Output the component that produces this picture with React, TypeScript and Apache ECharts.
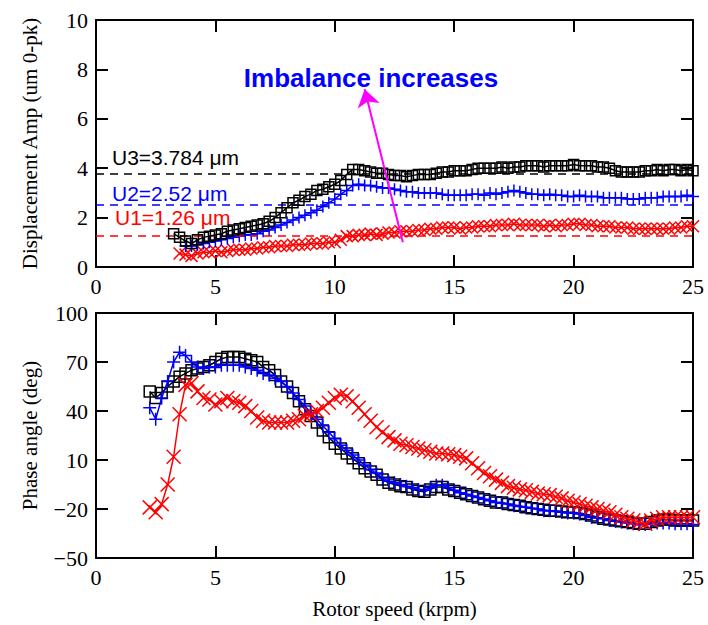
import React, { useEffect, useRef } from "react";
import * as echarts from "echarts";

// Rotor speed grid (krpm)
const SPEED = [
  2.25, 2.5, 2.75,
  3.0, 3.25, 3.5, 3.75, 4.0, 4.25, 4.5, 4.75, 5.0, 5.25, 5.5, 5.75,
  6.0, 6.25, 6.5, 6.75, 7.0, 7.25, 7.5, 7.75, 8.0, 8.25, 8.5, 8.75,
  9.0, 9.25, 9.5, 9.75, 10.0, 10.25, 10.5, 10.75, 11.0, 11.25, 11.5, 11.75,
  12.0, 12.25, 12.5, 12.75, 13.0, 13.25, 13.5, 13.75, 14.0, 14.25, 14.5, 14.75,
  15.0, 15.25, 15.5, 15.75, 16.0, 16.25, 16.5, 16.75, 17.0, 17.25, 17.5, 17.75,
  18.0, 18.25, 18.5, 18.75, 19.0, 19.25, 19.5, 19.75, 20.0, 20.25, 20.5, 20.75,
  21.0, 21.25, 21.5, 21.75, 22.0, 22.25, 22.5, 22.75, 23.0, 23.25, 23.5, 23.75,
  24.0, 24.25, 24.5, 24.75, 25.0,
];

// Displacement amplitude (um 0-pk)
const AMP_U3 = [
  null, null, null,
  null, 1.35, 1.2, 1.05, 0.95, 1.1, 1.2, 1.25, 1.3, 1.35, 1.45, 1.5,
  1.55, 1.6, 1.65, 1.7, 1.75, 1.85, 2.0, 2.2, 2.4, 2.6, 2.7, 2.85,
  2.95, 3.1, 3.15, 3.25, 3.35, 3.5, 3.75, 3.95, 3.95, 3.9, 3.85, 3.8,
  3.8, 3.75, 3.7, 3.7, 3.65, 3.7, 3.75, 3.75, 3.75, 3.8, 3.85, 3.85,
  3.9, 3.9, 3.9, 3.95, 4.0, 4.0, 4.0, 4.0, 4.05, 4.0, 4.05, 4.05,
  4.1, 4.1, 4.1, 4.05, 4.1, 4.1, 4.1, 4.1, 4.15, 4.1, 4.1, 4.1,
  4.05, 4.05, 4.0, 3.9, 3.85, 3.85, 3.85, 3.85, 3.9, 3.9, 3.95, 3.9,
  3.95, 3.95, 3.9, 3.95, 3.9,
];
const AMP_U2 = [
  null, null, null,
  null, null, null, 0.85, 0.85, 0.9, 0.95, 1.0, 1.05, 1.1, 1.15, 1.2,
  1.25, 1.3, 1.3, 1.35, 1.45, 1.5, 1.6, 1.7, 1.8, 1.9, 2.0, 2.1,
  2.2, 2.3, 2.45, 2.6, 2.75, 2.95, 3.1, 3.3, 3.35, 3.3, 3.3, 3.25,
  3.2, 3.2, 3.15, 3.1, 3.05, 3.05, 3.0, 3.0, 3.0, 3.0, 2.95, 2.9,
  2.9, 2.9, 2.9, 2.95, 2.95, 2.9, 3.0, 2.95, 3.0, 3.05, 3.1, 3.05,
  3.0, 2.95, 2.95, 2.9, 2.95, 2.9, 2.9, 2.85, 2.85, 2.9, 2.85, 2.85,
  2.85, 2.8, 2.8, 2.8, 2.8, 2.75, 2.75, 2.75, 2.8, 2.8, 2.8, 2.85,
  2.85, 2.85, 2.85, 2.9, 2.85,
];
const AMP_U1 = [
  null, null, null,
  null, null, 0.55, 0.5, 0.45, 0.55, 0.6, 0.6, 0.65, 0.6, 0.65, 0.7,
  0.7, 0.7, 0.75, 0.75, 0.8, 0.8, 0.85, 0.85, 0.85, 0.9, 0.9, 0.9,
  0.95, 0.95, 0.95, 1.0, 1.0, 1.1, 1.25, 1.25, 1.3, 1.3, 1.35, 1.3,
  1.35, 1.4, 1.4, 1.45, 1.45, 1.45, 1.5, 1.5, 1.55, 1.55, 1.6, 1.6,
  1.6, 1.55, 1.6, 1.6, 1.65, 1.65, 1.65, 1.7, 1.7, 1.7, 1.75, 1.7,
  1.7, 1.7, 1.7, 1.65, 1.7, 1.65, 1.7, 1.7, 1.75, 1.75, 1.7, 1.7,
  1.65, 1.65, 1.65, 1.6, 1.6, 1.6, 1.55, 1.55, 1.55, 1.55, 1.55, 1.55,
  1.55, 1.6, 1.6, 1.65, 1.65,
];

// Phase angle (deg)
const PHASE_U3 = [
  52, 48, 51,
  55, 58, 61, 63, 65, 66, 67, 68, 70, 72, 73, 73,
  73, 72, 71, 70, 67, 65, 62, 58, 55, 51, 46, 41,
  37, 33, 28, 24, 20, 17, 14, 11, 8, 5, 3, 1,
  -2, -4, -5, -6, -6.5, -8, -9, -9.5, -8, -6.5, -6.5, -8,
  -9, -10, -11, -12, -13, -14, -15, -16, -16, -17, -17.5, -18,
  -19, -19.5, -20, -20.5, -21, -21, -21.5, -22, -22, -22.5, -23, -24,
  -25, -26, -26.5, -27, -27.5, -28, -28.5, -29, -29, -28, -27, -26.5,
  -26.5, -27, -27, -27, -27,
];
const PHASE_U2 = [
  42, 35, 48,
  58, 70, 76, 74, 70, 67, 66, 67, 67, 68, 68, 68,
  68, 67, 66, 65, 63, 62, 60, 58, 55, 51, 47, 43,
  39, 35, 31, 27, 23, 19, 16, 13, 10, 7, 4, 2,
  -1, -3, -4, -5, -6, -7, -8, -8.5, -7, -5.5, -5.5, -7,
  -8.5, -10, -11, -12, -13, -14, -15, -16, -16.5, -17, -18, -18.5,
  -19, -19.5, -20, -21, -21, -21.5, -22, -22.5, -22.5, -23, -24, -25,
  -25.5, -26, -27, -27.5, -28, -28.5, -29, -29.5, -29.5, -29, -28.5, -28.5,
  -28.5, -29, -29, -29, -29.5,
];
const PHASE_U1 = [
  -19, -22, -17,
  -5, 12, 38, 56, 57, 52, 48, 47, 44, 46, 48, 46,
  45, 43, 40, 36, 34, 33, 33, 33, 33, 34, 35, 37,
  38, 40, 42, 45, 48, 50, 49, 46, 42, 38, 34, 30,
  27, 24, 22, 20, 19, 18, 17, 16, 15, 14, 14, 13.5,
  13, 12, 11, 8, 5, 2, 0, -2, -4, -6, -7, -8,
  -8.5, -9.5, -10.5, -11, -11.5, -12.5, -13.5, -15, -16, -17, -18, -19,
  -20, -21, -22, -23.5, -25, -26, -27, -28, -29, -27, -26, -25,
  -25, -25, -25, -25, -25,
];

// Reference imbalance levels
const REF_LEVELS = [3.784, 2.52, 1.26];
const REF_LABELS = ["U3=3.784 μm", "U2=2.52 μm", "U1=1.26 μm"];
const REF_COLORS = ["#000000", "#0000ff", "#ff0000"];

// Annotation arrow (krpm, um)
const ARROW_FROM = [12.85, 1.0];
const ARROW_TO = [11.25, 7.2];
const ANNOTATION = "Imbalance increases";

const AXIS_LABELS = {
  x: "Rotor speed (krpm)",
  amp: "Displacement Amp (um 0-pk)",
  phase: "Phase angle (deg)",
};

const PLUS = "path://M5,0L5,10M0,5L10,5";
const CROSS = "path://M0,0L10,10M10,0L0,10";
const SERIF = "'Liberation Serif', 'Times New Roman', serif";
const SANS = "'Liberation Sans', Arial, sans-serif";

function pts(arr: (number | null)[]) {
  const out: number[][] = [];
  SPEED.forEach((s, i) => {
    if (arr[i] !== null && arr[i] !== undefined) out.push([s, arr[i] as number]);
  });
  return out;
}

export default function App() {
  const ref = useRef<HTMLDivElement>(null);

  useEffect(() => {
    if (!ref.current) return;
    const chart = echarts.init(ref.current, undefined, { renderer: "svg" });

    const axisLine = { show: true, onZero: false, lineStyle: { color: "#000", width: 2 } };
    const axisTick = { show: true, inside: true, length: 12, lineStyle: { color: "#000", width: 2 } };
    const axisLabel = {
      color: "#000",
      fontFamily: SERIF,
      fontSize: 22,
      margin: 8,
      formatter: (v: number) => String(v).replace("-", "\u2212"),
    };
    const nameStyle = { color: "#000", fontFamily: SERIF, fontSize: 21 };

    const xMain = (gridIndex: number, withName: boolean) => ({
      type: "value",
      gridIndex,
      min: 0,
      max: 25,
      interval: 5,
      position: "bottom",
      axisLine,
      axisTick,
      axisLabel,
      splitLine: { show: false },
      name: withName ? AXIS_LABELS.x : "",
      nameLocation: "middle",
      nameGap: 40,
      nameTextStyle: nameStyle,
    });
    const xMirror = (gridIndex: number) => ({
      type: "value",
      gridIndex,
      min: 0,
      max: 25,
      interval: 5,
      position: "top",
      axisLine,
      axisTick,
      axisLabel: { show: false },
      splitLine: { show: false },
    });
    const yMain = (gridIndex: number, min: number, max: number, interval: number, name: string) => ({
      type: "value",
      gridIndex,
      min,
      max,
      interval,
      position: "left",
      axisLine,
      axisTick,
      axisLabel,
      splitLine: { show: false },
      name,
      nameLocation: "middle",
      nameGap: 56,
      nameTextStyle: nameStyle,
    });
    const yMirror = (gridIndex: number, min: number, max: number, interval: number) => ({
      type: "value",
      gridIndex,
      min,
      max,
      interval,
      position: "right",
      axisLine,
      axisTick,
      axisLabel: { show: false },
      splitLine: { show: false },
    });

    const mk = (
      name: string,
      data: number[][],
      color: string,
      symbol: string,
      size: number,
      xi: number,
      yi: number,
      z: number
    ) => ({
      type: "line",
      name,
      xAxisIndex: xi,
      yAxisIndex: yi,
      data,
      symbol,
      symbolSize: size,
      showSymbol: true,
      showAllSymbol: true,
      z,
      lineStyle: { color, width: 1.5 },
      itemStyle: { color: "transparent", borderColor: color, borderWidth: 1.5 },
      emphasis: { disabled: true },
      silent: true,
    });

    const labelDist = [[16, 6], [16, 1], [19, 8]];

    const option = {
      animation: false,
      grid: [
        { left: 96, right: 15, top: 20, height: 247, outerBoundsMode: "none" },
        { left: 96, right: 15, top: 313, height: 245, outerBoundsMode: "none" },
      ],
      xAxis: [xMain(0, false), xMirror(0), xMain(1, true), xMirror(1)],
      yAxis: [
        yMain(0, 0, 10, 2, AXIS_LABELS.amp),
        yMirror(0, 0, 10, 2),
        yMain(1, -50, 100, 30, AXIS_LABELS.phase),
        yMirror(1, -50, 100, 30),
      ],
      series: [
        {
          type: "line",
          xAxisIndex: 0,
          yAxisIndex: 0,
          data: [],
          silent: true,
          markLine: {
            silent: true,
            symbol: ["none", "none"],
            data: REF_LEVELS.map((v, i) => ({
              yAxis: v,
              lineStyle: { color: REF_COLORS[i], type: [8, 6], width: 1.5 },
              label: {
                show: true,
                position: "insideStartTop",
                distance: labelDist[i],
                formatter: REF_LABELS[i],
                color: REF_COLORS[i],
                fontFamily: SANS,
                fontSize: 21,
              },
            })),
          },
        },
        mk("U1", pts(AMP_U1), "#ff0000", CROSS, 12, 0, 0, 3),
        mk("U2", pts(AMP_U2), "#0000ff", PLUS, 12, 0, 0, 4),
        mk("U3", pts(AMP_U3), "#000000", "rect", 10, 0, 0, 5),
        mk("U3p", pts(PHASE_U3), "#000000", "rect", 11, 2, 2, 3),
        mk("U2p", pts(PHASE_U2), "#0000ff", PLUS, 13, 2, 2, 4),
        mk("U1p", pts(PHASE_U1), "#ff0000", CROSS, 14, 2, 2, 5),
        {
          type: "lines",
          coordinateSystem: "cartesian2d",
          xAxisIndex: 0,
          yAxisIndex: 0,
          z: 10,
          silent: true,
          symbol: ["none", "arrow"],
          symbolSize: 17,
          lineStyle: { color: "#ff00ff", width: 2, opacity: 1, curveness: 0 },
          data: [{ coords: [ARROW_FROM, ARROW_TO] }],
        },
      ],
      graphic: [
        {
          type: "text",
          x: 371,
          y: 78,
          z: 20,
          style: {
            text: ANNOTATION,
            fill: "#0000ff",
            font: `bold 26px ${SANS}`,
            textAlign: "center",
            textVerticalAlign: "middle",
          },
        },
      ],
    };

    chart.setOption(option as any);
    return () => chart.dispose();
  }, []);

  return (
    <div
      ref={ref}
      style={{ position: "absolute", left: 0, top: 0, width: 708, height: 625, background: "#fff" }}
    />
  );
}
